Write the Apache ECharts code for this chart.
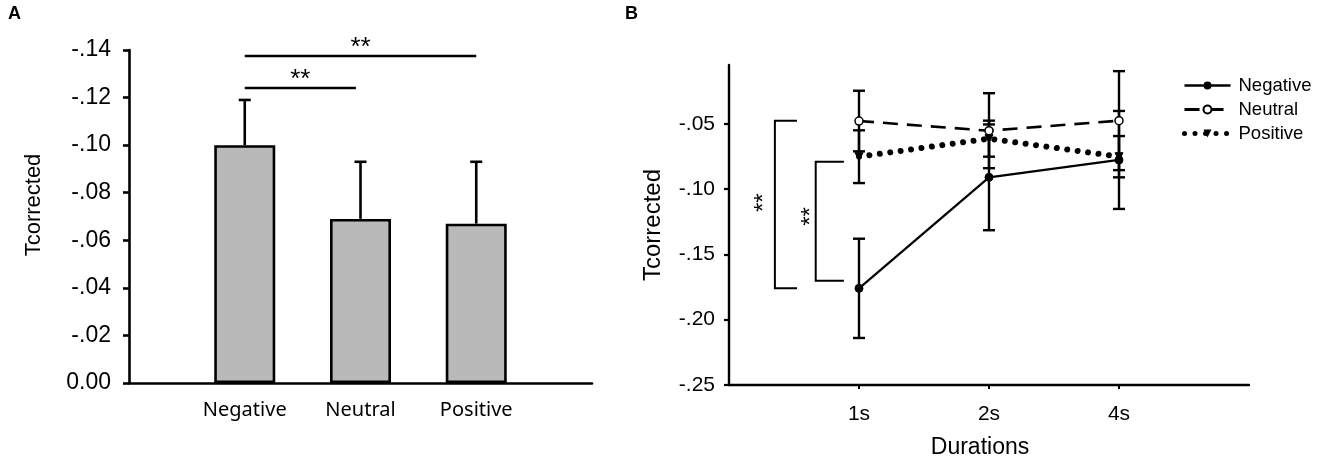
<!DOCTYPE html>
<html>
<head>
<meta charset="utf-8">
<script src="https://cdn.jsdelivr.net/npm/echarts@6/dist/echarts.min.js"></script>
<style>
html, body { margin: 0; padding: 0; background: #fff; }
#main { width: 1323px; height: 461px; }
</style>
</head>
<body>
<div id="main"></div>
<script>
// panel A : mean Tcorrected per valence
var valences = ['Negative', 'Neutral', 'Positive'];
var barMean = [-0.100, -0.069, -0.067];
var barErr = [0.019, 0.024, 0.026];
var yTicksA = [-0.14, -0.12, -0.10, -0.08, -0.06, -0.04, -0.02, 0];
// significance lines: from category, to category, level
var sigA = [[1, 1.96, -0.124], [1, 3, -0.1375]];

// panel B : Tcorrected per duration
var durations = ['1s', '2s', '4s'];
var negMean = [-0.176, -0.091, -0.0777];
var negErr = [0.038, 0.0405, 0.0375];
var neuMean = [-0.0479, -0.0553, -0.0476];
var neuErr = [0.0232, 0.0287, 0.0379];
var posMean = [-0.0752, -0.0614, -0.0752];
var posErr = [0.0202, 0.0138, 0.0158];
var yTicksB = [-0.25, -0.20, -0.15, -0.10, -0.05];
// brackets: x of vertical, x of ends, top level, bottom level
var bracketB = [[0.353, 0.523, -0.0476, -0.176], [0.667, 0.884, -0.079, -0.1702]];
var starB = [[0.2225, -0.1104], [0.584, -0.1209]];

var FONT = '"Liberation Sans", Arial, sans-serif';

function fmtA(v) {
	if (Math.abs(v) < 1e-9) return '0.00';
	return v.toFixed(2).replace('0.', '.');
}
function fmtB(v) {
	return v.toFixed(2).replace('0.', '.');
}

function pts(means) {
	var out = [];
	for (var i = 0; i < means.length; i++) {
		out.push([i + 1, means[i]]);
	}
	return out;
}
function errData(means, errs) {
	var out = [];
	for (var i = 0; i < means.length; i++) {
		out.push([i + 1, means[i], errs[i]]);
	}
	return out;
}

var barData = pts(barMean);
var barErrData = errData(barMean, barErr);
var lineErrData = errData(negMean, negErr).concat(errData(neuMean, neuErr), errData(posMean, posErr));

// upper whisker only (bar chart)
function renderUpErr(params, api) {
	var x = api.value(0), m = api.value(1), e = api.value(2);
	var p0 = api.coord([x, m]);
	var p1 = api.coord([x, m - e]);
	var st = { stroke: '#000', lineWidth: 2.6 };
	return {
		type: 'group',
		children: [
			{ type: 'line', shape: { x1: p0[0], y1: p0[1], x2: p1[0], y2: p1[1] }, style: st },
			{ type: 'line', shape: { x1: p1[0] - 6, y1: p1[1], x2: p1[0] + 6, y2: p1[1] }, style: st }
		]
	};
}
// both whiskers (line chart)
function renderErr(params, api) {
	var x = api.value(0), m = api.value(1), e = api.value(2);
	var lo = api.coord([x, m - e]);
	var hi = api.coord([x, m + e]);
	var st = { stroke: '#000', lineWidth: 2.4 };
	return {
		type: 'group',
		children: [
			{ type: 'line', shape: { x1: lo[0], y1: lo[1], x2: hi[0], y2: hi[1] }, style: st },
			{ type: 'line', shape: { x1: lo[0] - 6, y1: lo[1], x2: lo[0] + 6, y2: lo[1] }, style: st },
			{ type: 'line', shape: { x1: hi[0] - 6, y1: hi[1], x2: hi[0] + 6, y2: hi[1] }, style: st }
		]
	};
}
function renderSigA(params, api) {
	var a = api.coord([api.value(0), api.value(2)]);
	var b = api.coord([api.value(1), api.value(2)]);
	return {
		type: 'group',
		children: [
			{ type: 'line', shape: { x1: a[0], y1: a[1], x2: b[0], y2: b[1] }, style: { stroke: '#000', lineWidth: 2.6 } },
			{ type: 'text', x: (a[0] + b[0]) / 2, y: a[1] - 8, style: { text: '**', fill: '#000', font: '26px ' + FONT, align: 'center', verticalAlign: 'middle' } }
		]
	};
}
function renderBracket(params, api) {
	var t0 = api.coord([api.value(0), api.value(2)]);
	var t1 = api.coord([api.value(1), api.value(2)]);
	var b0 = api.coord([api.value(0), api.value(3)]);
	var b1 = api.coord([api.value(1), api.value(3)]);
	return {
		type: 'polyline',
		shape: { points: [t1, t0, b0, b1] },
		style: { stroke: '#000', lineWidth: 2, fill: null }
	};
}
function renderStar(params, api) {
	var p = api.coord([api.value(0), api.value(1)]);
	// rotated text: asterisks sit high in the glyph box, push back right
	return {
		type: 'text', x: p[0] + 6, y: p[1], rotation: Math.PI / 2,
		style: { text: '**', fill: '#000', font: '24px ' + FONT, align: 'center', verticalAlign: 'middle' }
	};
}

var myChart = echarts.init(document.getElementById('main'));

var option = {
	animation: false,
	backgroundColor: '#fff',
	textStyle: { fontFamily: FONT, color: '#000' },
	graphic: [
		{ type: 'text', left: 8, top: 5, style: { text: 'A', font: 'bold 18px ' + FONT, fill: '#000' } },
		{ type: 'text', left: 625, top: 5, style: { text: 'B', font: 'bold 18px ' + FONT, fill: '#000' } },
		{ type: 'text', x: 34, y: 205, rotation: Math.PI / 2, style: { text: 'Tcorrected', font: '22px ' + FONT, fill: '#000', align: 'center', verticalAlign: 'middle' } },
		{ type: 'text', x: 980, y: 448, style: { text: 'Durations', font: '23px ' + FONT, fill: '#000', align: 'center', verticalAlign: 'middle' } }
	],
	legend: {
		orient: 'vertical',
		left: 1182,
		top: 76,
		padding: 0,
		itemWidth: 46,
		itemHeight: 10,
		itemGap: 5,
		data: [
			{ name: 'Negative', lineStyle: { width: 2.4 } },
			{ name: 'Neutral', lineStyle: { width: 3 } },
			{ name: 'Positive', lineStyle: { width: 5 } }
		],
		textStyle: { fontFamily: FONT, fontSize: 18.5, color: '#000', lineHeight: 18, padding: [0, 0, 0, 3] }
	},
	grid: [
		{ left: 129, top: 50, width: 463, height: 333 },
		{ left: 729, top: 65, width: 520, height: 320 }
	],
	xAxis: [
		{
			gridIndex: 0, type: 'value', min: 0, max: 4,
			splitLine: { show: false },
			axisLine: { onZero: false, lineStyle: { color: '#000', width: 2.6 } },
			axisTick: { show: false },
			axisLabel: {
				customValues: [1, 2, 3],
				formatter: function (v) { return valences[Math.round(v) - 1]; },
				fontFamily: '"Noto Sans", sans-serif', fontSize: 20, color: '#000', margin: 17
			}
		},
		{
			gridIndex: 1, type: 'value', min: 0, max: 4,
			splitLine: { show: false },
			axisLine: { onZero: false, lineStyle: { color: '#000', width: 2.4 } },
			axisTick: { customValues: [1, 2, 3], length: 4, lineStyle: { color: '#000', width: 2 } },
			axisLabel: {
				customValues: [1, 2, 3],
				formatter: function (v) { return durations[Math.round(v) - 1]; },
				fontSize: 21, color: '#000', margin: 19
			}
		}
	],
	yAxis: [
		{
			gridIndex: 0, type: 'value', min: -0.14, max: 0, inverse: true,
			splitLine: { show: false },
			axisLine: { show: true, onZero: false, lineStyle: { color: '#000', width: 2.6 } },
			axisTick: { show: true, customValues: yTicksA, length: 6, lineStyle: { color: '#000', width: 2.6 } },
			axisLabel: { customValues: yTicksA, formatter: fmtA, fontSize: 23, color: '#000', margin: 18 }
		},
		{
			gridIndex: 1, type: 'value', min: -0.25, max: -0.005,
			name: 'Tcorrected', nameLocation: 'middle', nameGap: 64, nameRotate: 90,
			nameTextStyle: { fontSize: 24, color: '#000' },
			splitLine: { show: false },
			axisLine: { show: true, onZero: false, lineStyle: { color: '#000', width: 2.4 } },
			axisTick: { show: true, customValues: yTicksB, length: 5, lineStyle: { color: '#000', width: 2.2 } },
			axisLabel: { customValues: yTicksB, formatter: fmtB, fontSize: 21, color: '#000', margin: 14 }
		}
	],
	series: [
		{
			type: 'bar', xAxisIndex: 0, yAxisIndex: 0,
			barWidth: 61,
			itemStyle: { color: '#b9b9ba', borderColor: '#000', borderWidth: 2.6 },
			data: barData, z: 2
		},
		{
			type: 'custom', xAxisIndex: 0, yAxisIndex: 0,
			renderItem: renderUpErr, data: barErrData, z: 3
		},
		{
			type: 'custom', xAxisIndex: 0, yAxisIndex: 0,
			renderItem: renderSigA, data: sigA, z: 3
		},
		{
			type: 'custom', xAxisIndex: 1, yAxisIndex: 1,
			renderItem: renderErr, data: lineErrData, z: 2
		},
		{
			type: 'custom', xAxisIndex: 1, yAxisIndex: 1,
			renderItem: renderBracket, data: bracketB, z: 2
		},
		{
			type: 'custom', xAxisIndex: 1, yAxisIndex: 1,
			renderItem: renderStar, data: starB, z: 2
		},
		{
			name: 'Negative', type: 'line', xAxisIndex: 1, yAxisIndex: 1,
			data: pts(negMean),
			symbol: 'circle', symbolSize: 8,
			itemStyle: { color: '#000', borderColor: '#000' },
			lineStyle: { color: '#000', width: 2.2, type: 'solid' },
			z: 5
		},
		{
			name: 'Neutral', type: 'line', xAxisIndex: 1, yAxisIndex: 1,
			data: pts(neuMean),
			symbol: 'circle', symbolSize: 8,
			itemStyle: { color: '#fff', borderColor: '#000', borderWidth: 1.5 },
			lineStyle: { color: '#000', width: 2.6, type: [15, 9] },
			z: 5
		},
		{
			name: 'Positive', type: 'line', xAxisIndex: 1, yAxisIndex: 1,
			data: pts(posMean),
			symbol: 'triangle', symbolRotate: 180, symbolSize: 8,
			itemStyle: { color: '#000', borderColor: '#000' },
			lineStyle: { color: '#000', width: 6, type: [0.01, 10.5], cap: 'round' },
			z: 5
		}
	]
};
myChart.setOption(option);
</script>
</body>
</html>
